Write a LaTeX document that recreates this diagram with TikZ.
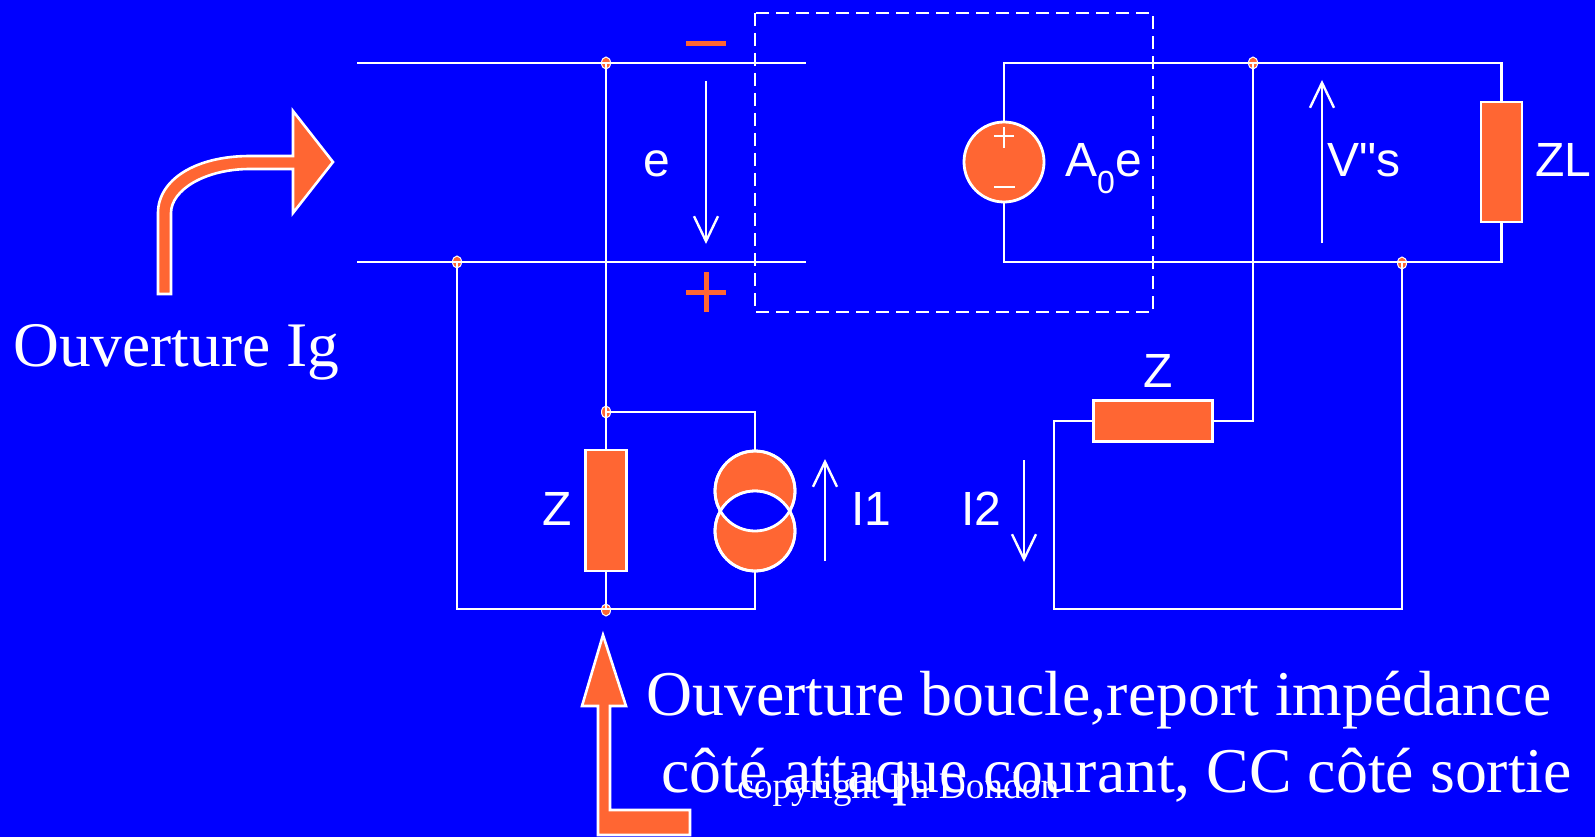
\documentclass[tikz,border=0pt]{standalone}
\usepackage{fontspec}
\setmainfont{Liberation Serif}
\newfontfamily\labelfont{Liberation Sans}
\usetikzlibrary{arrows.meta,shapes.geometric}
\definecolor{slideblue}{RGB}{0,0,255}
\definecolor{slideorange}{RGB}{255,102,51}
\tikzset{
	wire/.style={draw=white,line width=2.8pt,line join=miter},
	flow/.style={draw=white,line width=2.4pt,-{Straight Barb[length=25pt,width=24pt,line width=2.4pt]}},
	imped/.style={rectangle,draw=white,fill=slideorange,line width=2.8pt,inner sep=0pt},
	source/.style={circle,draw=white,fill=slideorange,line width=2.8pt,inner sep=0pt,minimum size=80pt},
	junction/.style={ellipse,draw=white,fill=slideorange,line width=1pt,inner sep=0pt,minimum width=9pt,minimum height=12pt},
	bigarrow/.style={draw=white,fill=slideorange,line width=2.6pt,line join=miter},
	elabel/.style={anchor=base west,inner sep=0pt,text=white,font=\labelfont\fontsize{48}{48}\selectfont},
	tlabel/.style={anchor=base west,inner sep=0pt,text=white,font=\fontsize{63.8}{63.8}\selectfont}
}
\begin{document}
\begin{tikzpicture}[x=1pt,y=-1pt]
	\useasboundingbox [fill=slideblue] (0,0) rectangle (1595,837);

	\node [junction] (jtop) at (606,63) {};		\node [junction] (jbot) at (457,262) {};
	\node [junction] (jmid) at (606,412) {};	\node [junction] (jlow) at (606,610) {};
	\node [junction] (jout) at (1253,63) {};	\node [junction] (jret) at (1402,263) {};

	\node [imped,minimum width=41pt,minimum height=121pt] (zv) at (606,510.5) {};
	\node [imped,minimum width=118.5pt,minimum height=41pt] (zh) at (1153,421) {};
	\node [imped,minimum width=41pt,minimum height=120pt] (zl) at (1501.5,162) {};
	\node [source] (ao) at (1004,162) {};
	\node [source] (itop) at (755,491) {};
	\node [source] (ibot) at (755,531) {};
	\begin{scope}
		\clip (755,491) circle (40);
		\fill [slideblue] (755,531) circle (40);
	\end{scope}
	\draw [white,line width=2.8pt] (755,491) circle (40);
	\draw [white,line width=2.8pt] (755,531) circle (40);
	\draw [white,line width=2.8pt] (994,136) -- (1014,136);	\draw [white,line width=2.8pt] (1004,127) -- (1004,148);
	\draw [white,line width=2.8pt] (994,187) -- (1015,187);

	\coordinate (tl) at (357,63);	\coordinate (tr) at (806,63);
	\coordinate (bl) at (357,262);	\coordinate (br) at (806,262);
	\draw [wire] (tl) -- (tr);
	\draw [wire] (bl) -- (br);
	\draw [wire] (jtop.center) -- (jmid.center) -- (zv.north);
	\draw [wire] (zv.south) -- (jlow.center);
	\coordinate (c1) at (457,609);	\coordinate (c2) at (755,609);	\coordinate (c3) at (755,412);
	\draw [wire] (jbot.center) -- (c1) -- (c2) -- (ibot.south);
	\draw [wire] (jmid.center) -- (c3) -- (itop.north);

	\coordinate (c4) at (1004,63);	\coordinate (c5) at (1501.5,63);
	\coordinate (c6) at (1004,262);	\coordinate (c7) at (1501.5,262);
	\draw [wire] (ao.north) -- (c4) -- (c5) -- (zl.north);
	\draw [wire] (ao.south) -- (c6) -- (c7) -- (zl.south);
	\coordinate (c8) at (1253,421);	\coordinate (c9) at (1054,421);
	\coordinate (c10) at (1054,609);	\coordinate (c11) at (1402,609);
	\draw [wire] (jout.center) -- (c8) -- (zh.east);
	\draw [wire] (zh.west) -- (c9) -- (c10) -- (c11) -- (jret.center);

	\draw [white,line width=2.8pt,dash pattern=on 13pt off 7pt] (755,13) rectangle (1153,312);

	\coordinate (ea) at (706,81);	\coordinate (eb) at (706,244);
	\coordinate (va) at (1322,243);	\coordinate (vb) at (1322,80);
	\coordinate (ia) at (825,561);	\coordinate (ib) at (825,459);
	\coordinate (ja) at (1024,460);	\coordinate (jb) at (1024,562);
	\draw [flow] (ea) -- (eb);
	\draw [flow] (va) -- (vb);
	\draw [flow] (ia) -- (ib);
	\draw [flow] (ja) -- (jb);

	% signs of e
	\draw [slideorange,line width=5pt] (686,43.5) -- (726,43.5);
	\draw [slideorange,line width=5pt] (686,292) -- (726,292);
	\draw [slideorange,line width=5pt] (706,272) -- (706,312);

	% bent arrows
	\draw [bigarrow] (158,294) -- (158,213) .. controls (158,180) and (195,156) .. (250,156) -- (293,156) -- (293,111) -- (333,162) -- (293,213) -- (293,169) -- (250,169) .. controls (205,169) and (171,190) .. (171,213) -- (171,294) -- cycle;
	\draw [bigarrow] (603,635) -- (626,706) -- (610,706) -- (610,810) -- (690,810) -- (690,835) -- (598,835) -- (598,706) -- (582,706) -- cycle;

	\node [elabel] (le) at (643,177) {e};
	\node [elabel] (lao) at (1065,177) {A\raisebox{-17pt}{\fontsize{32}{32}\selectfont 0}e};
	\node [elabel] (lvs) at (1327,177) {V"s};
	\node [elabel] (lzl) at (1535,177) {ZL};
	\node [elabel] (lzh) at (1143,387) {Z};
	\node [elabel] (lzv) at (542,525) {Z};
	\node [elabel] (li1) at (851,525) {I1};
	\node [elabel] (li2) at (961,525) {I2};

	\node [anchor=base west,inner sep=0pt,text=white,font=\fontsize{63.5}{63.5}\selectfont] (lig) at (13,366) {Ouverture Ig};
	\node [tlabel] (lrep) at (646,715) {Ouverture boucle,report impédance};
	\node [tlabel] (lcc) at (661,792) {côté attaque courant, CC côté sortie};
	\node [anchor=base west,inner sep=0pt,text=white,font=\fontsize{37.4}{37.4}\selectfont] (lcop) at (737,798) {copyright Ph Dondon};
\end{tikzpicture}
\end{document}
